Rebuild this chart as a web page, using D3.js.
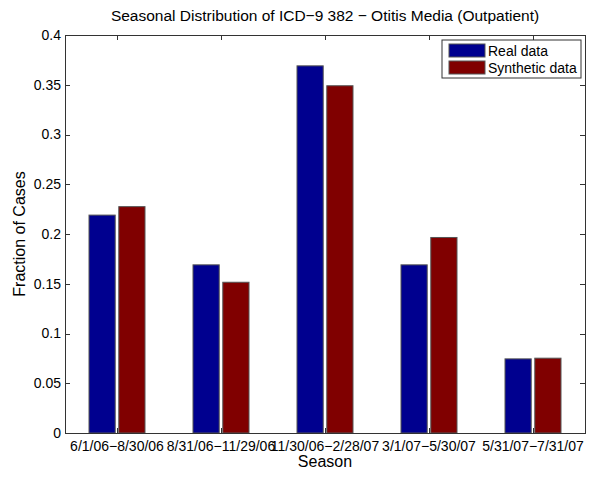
<!DOCTYPE html>
<html>
<head>
<meta charset="utf-8">
<script src="https://d3js.org/d3.v7.min.js"></script>
<style>
  body { margin: 0; background: #fff; }
  text { font-family: "Liberation Sans", Helvetica, Arial, sans-serif; fill: #000; }
  .axis path, .axis line { fill: none; stroke: #333; shape-rendering: crispEdges; }
</style>
</head>
<body>
<script>
  var seasons = ["6/1/06\u22128/30/06", "8/31/06\u221211/29/06", "11/30/06\u22122/28/07", "3/1/07\u22125/30/07", "5/31/07\u22127/31/07"];
  var realData = [0.219, 0.169, 0.369, 0.169, 0.0745];
  var syntheticData = [0.2275, 0.1515, 0.349, 0.1965, 0.0752];
  var seriesNames = ["Real data", "Synthetic data"];
  var seriesColors = ["#00008f", "#800000"];
  var yTicks = [0, 0.05, 0.1, 0.15, 0.2, 0.25, 0.3, 0.35, 0.4];

  var margin = { top: 35, right: 15, bottom: 51, left: 65 },
    width = 600 - margin.left - margin.right,
    height = 484 - margin.top - margin.bottom;

  var svg = d3.select("body").append("svg")
    .attr("width", 600)
    .attr("height", 484)
    .append("g")
    .attr("transform", "translate(" + margin.left + "," + margin.top + ")");

  var x = d3.scaleBand()
    .domain(seasons)
    .range([0, width]);

  var x1 = d3.scaleBand()
    .domain(seriesNames)
    .range([x.bandwidth() / 2 - 28, x.bandwidth() / 2 + 28])
    .paddingInner(0.12);

  var y = d3.scaleLinear()
    .domain([0, 0.4])
    .range([height, 0]);

  var fmt = function (d) { return d === 0 ? "0" : String(d); };

  // bars
  var rows = seasons.map(function (s, i) {
    return { season: s, values: [realData[i], syntheticData[i]] };
  });

  var groups = svg.selectAll(".group")
    .data(rows)
    .enter().append("g")
    .attr("class", "group")
    .attr("transform", function (d) { return "translate(" + x(d.season) + ",0)"; });

  groups.selectAll("rect")
    .data(function (d) { return d.values.map(function (v, j) { return { name: seriesNames[j], value: v, color: seriesColors[j] }; }); })
    .enter().append("rect")
    .attr("x", function (d) { return x1(d.name); })
    .attr("width", x1.bandwidth())
    .attr("y", function (d) { return y(d.value); })
    .attr("height", function (d) { return height - y(d.value); })
    .style("fill", function (d) { return d.color; })
    .style("stroke", "#555")
    .style("stroke-width", 1);

  // axes, matlab style: inward ticks on all four sides
  svg.append("g")
    .attr("class", "x axis")
    .attr("transform", "translate(0," + height + ")")
    .call(d3.axisBottom(x).tickSizeInner(-5).tickSizeOuter(0).tickPadding(8))
    .selectAll("text").style("font-size", "14px");

  svg.append("g")
    .attr("class", "axis")
    .call(d3.axisTop(x).tickSizeInner(-5).tickSizeOuter(0).tickFormat(""));

  svg.append("g")
    .attr("class", "y axis")
    .call(d3.axisLeft(y).tickValues(yTicks).tickFormat(fmt).tickSizeInner(-5).tickSizeOuter(0).tickPadding(4))
    .selectAll("text").style("font-size", "14px");

  svg.append("g")
    .attr("class", "axis")
    .attr("transform", "translate(" + width + ",0)")
    .call(d3.axisRight(y).tickValues(yTicks).tickSizeInner(-5).tickSizeOuter(0).tickFormat(""));

  // legend
  var legend = svg.append("g")
    .attr("transform", "translate(" + (width - 143) + ",5)");

  legend.append("rect")
    .attr("width", 139)
    .attr("height", 38)
    .style("fill", "#fff")
    .style("stroke", "#333");

  seriesNames.forEach(function (name, i) {
    legend.append("rect")
      .attr("x", 7)
      .attr("y", 4 + i * 17)
      .attr("width", 36)
      .attr("height", 13)
      .style("fill", seriesColors[i])
      .style("stroke", "#555");
    legend.append("text")
      .attr("x", 46)
      .attr("y", 16 + i * 17)
      .style("font-size", "14px")
      .text(name);
  });

  // title and axis labels
  svg.append("text")
    .attr("x", width / 2)
    .attr("y", -14)
    .style("text-anchor", "middle")
    .style("font-size", "15.5px")
    .text("Seasonal Distribution of ICD\u22129 382 \u2212 Otitis Media (Outpatient)");

  svg.append("text")
    .attr("x", width / 2)
    .attr("y", height + 34)
    .style("text-anchor", "middle")
    .style("font-size", "16px")
    .text("Season");

  svg.append("text")
    .attr("transform", "rotate(-90)")
    .attr("x", -height / 2)
    .attr("y", -40)
    .style("text-anchor", "middle")
    .style("font-size", "16px")
    .text("Fraction of Cases");
</script>
</body>
</html>
